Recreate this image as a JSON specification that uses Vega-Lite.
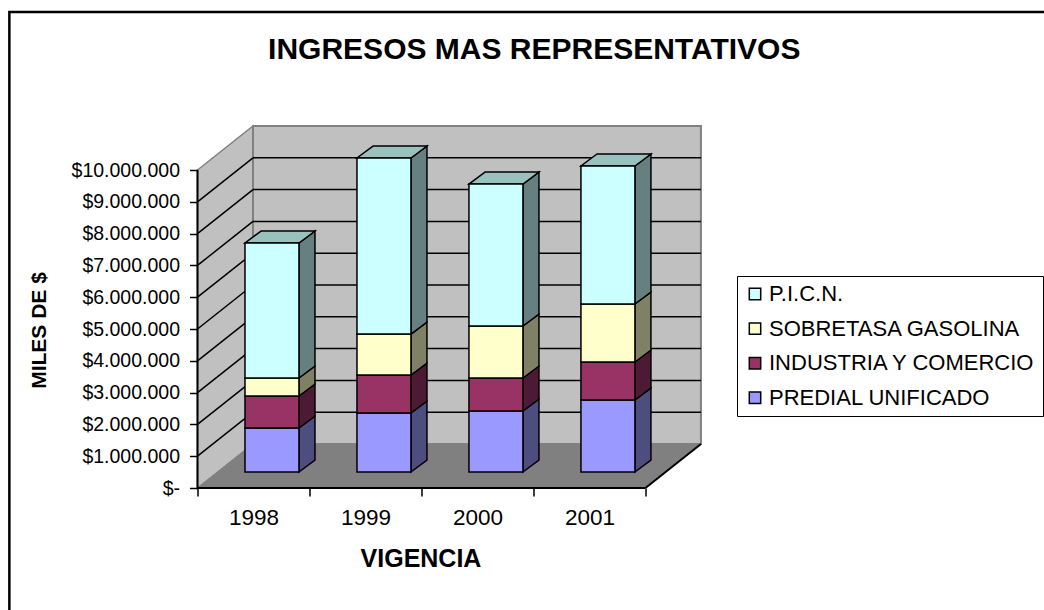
{
"$schema":"https://vega.github.io/schema/vega-lite/v6.json",
"autosize":"none","width":503.5,"height":362,
"padding":{"left":197.5,"top":126,"right":343,"bottom":122},
"background":"white",
"config":{"view":{"stroke":null},"font":"Liberation Sans"},
"title":{"text":"INGRESOS MAS REPRESENTATIVOS","frame":"group","font":"Liberation Sans","fontSize":30,"fontWeight":"bold","color":"black","anchor":"middle","dx":85,"offset":0,"dy":54.5},
"data":{"values":[
{"year":1998,"series":"PREDIAL UNIFICADO","value":1384000},
{"year":1998,"series":"INDUSTRIA Y COMERCIO","value":1006000},
{"year":1998,"series":"SOBRETASA GASOLINA","value":566000},
{"year":1998,"series":"P.I.C.N.","value":4245000},
{"year":1999,"series":"PREDIAL UNIFICADO","value":1855000},
{"year":1999,"series":"INDUSTRIA Y COMERCIO","value":1195000},
{"year":1999,"series":"SOBRETASA GASOLINA","value":1289000},
{"year":1999,"series":"P.I.C.N.","value":5535000},
{"year":2000,"series":"PREDIAL UNIFICADO","value":1918000},
{"year":2000,"series":"INDUSTRIA Y COMERCIO","value":1038000},
{"year":2000,"series":"SOBRETASA GASOLINA","value":1635000},
{"year":2000,"series":"P.I.C.N.","value":4465000},
{"year":2001,"series":"PREDIAL UNIFICADO","value":2264000},
{"year":2001,"series":"INDUSTRIA Y COMERCIO","value":1195000},
{"year":2001,"series":"SOBRETASA GASOLINA","value":1824000},
{"year":2001,"series":"P.I.C.N.","value":4340000}
]},
"transform":[
{"stack":"value","groupby":["year"],"as":["v0","v1"]},
{"calculate":"datum.year-1998+0.424","as":"xL"},
{"calculate":"datum.xL+0.482","as":"xR"},
{"calculate":"datum.v0+503000","as":"yB"},
{"calculate":"datum.v1+503000","as":"yT"}
],
"layer":[
{"data":{"values":[{"kind":"frame"}]},"mark":{"type":"rect","fill":"transparent","stroke":"black","strokeWidth":2.5},
 "encoding":{
 "x":{"datum":-1.68,"type":"quantitative","scale":{"domain":[0,4.496],"nice":false,"zero":false},
   "axis":{"values":[0,1,2,3,4],"labelExpr":"datum.value<4?''+(1998+datum.value):''","labelOffset":56,"labelFontSize":22.5,"labelColor":"black","labelFont":"Liberation Sans","labelPadding":10,"labelBound":false,"labelFlush":false,"labelOverlap":false,"domain":false,"grid":false,"tickColor":"black","tickWidth":1.5,"tickSize":8,"title":"VIGENCIA","titleFont":"Liberation Sans","titleFontSize":25,"titleFontWeight":"bold","titleColor":"black","titleX":223,"titleY":58,"zindex":1}},
 "x2":{"datum":9},
 "y":{"datum":14970000,"type":"quantitative","scale":{"domain":[0,11384000],"nice":false,"zero":false},
   "axis":{"values":[0,1000000,2000000,3000000,4000000,5000000,6000000,7000000,8000000,9000000,10000000],"tickCount":12,"labelExpr":"datum.value==0?'$-':'$'+replace(format(datum.value,',d'),/,/g,'.')","labelFontSize":19.5,"labelColor":"black","labelFont":"Liberation Sans","labelPadding":10,"labelOverlap":false,"domain":false,"grid":false,"tickColor":"black","tickWidth":1.5,"tickSize":8,"title":"MILES DE $","titleFont":"Liberation Sans","titleFontSize":21,"titleFontWeight":"bold","titleColor":"black","titleX":-148,"titleY":204,"titleAngle":-90,"zindex":1}},
 "y2":{"datum":-5000000}
 }},
{"data":{"values":[{"d":0},{"d":1}]},"transform":[{"calculate":"datum.d*0.4955","as":"x"},{"calculate":"datum.d*1383600","as":"y"},{"calculate":"10000000+datum.d*1383600","as":"y2"}],
 "mark":{"type":"area","fill":"#C0C0C0","stroke":"#808080","strokeWidth":1.5},
 "encoding":{"x":{"field":"x","type":"quantitative","scale":{"domain":[0,4.496],"nice":false,"zero":false}},
 "y":{"field":"y","type":"quantitative","stack":null,"scale":{"domain":[0,11384000],"nice":false,"zero":false}},"y2":{"field":"y2"}}},
{"data":{"values":[{"kind":"backwall"}]},"mark":{"type":"rect","fill":"#C0C0C0","stroke":"#808080","strokeWidth":2},
 "encoding":{"x":{"datum":0.4955,"type":"quantitative","scale":{"domain":[0,4.496],"nice":false,"zero":false}},"x2":{"datum":4.4955},
 "y":{"datum":1383600,"type":"quantitative","scale":{"domain":[0,11384000],"nice":false,"zero":false}},"y2":{"datum":11383600}}},
{"data":{"values":[{"d":0},{"d":1}]},"transform":[{"calculate":"datum.d*0.4955","as":"x"},{"calculate":"datum.x+4","as":"x2"},{"calculate":"datum.d*1383600","as":"y"}],
 "mark":{"type":"area","orient":"horizontal","fill":"#808080","stroke":"#808080","strokeWidth":1},
 "encoding":{"x":{"field":"x","type":"quantitative","stack":null,"scale":{"domain":[0,4.496],"nice":false,"zero":false}},"x2":{"field":"x2"},
 "y":{"field":"y","type":"quantitative","scale":{"domain":[0,11384000],"nice":false,"zero":false}}}},
{"data":{"values":[{"value":1000000},{"value":2000000},{"value":3000000},{"value":4000000},{"value":5000000},{"value":6000000},{"value":7000000},{"value":8000000},{"value":9000000}]},
 "transform":[{"calculate":"datum.value+1383600","as":"back"}],
 "layer":[
 {"mark":{"type":"rule","color":"black","strokeWidth":1.5},
 "encoding":{"x":{"datum":0,"type":"quantitative","scale":{"domain":[0,4.496],"nice":false,"zero":false}},"x2":{"datum":0.4955},
 "y":{"field":"value","type":"quantitative","scale":{"domain":[0,11384000],"nice":false,"zero":false}},"y2":{"field":"back"}}},
 {"mark":{"type":"rule","color":"black","strokeWidth":1.5},
 "encoding":{"x":{"datum":0.4955,"type":"quantitative","scale":{"domain":[0,4.496],"nice":false,"zero":false}},"x2":{"datum":4.4955},
 "y":{"field":"back","type":"quantitative","scale":{"domain":[0,11384000],"nice":false,"zero":false}}}}
 ]},
{"data":{"values":[{"edge":"front"}]},"layer":[
 {"mark":{"type":"rule","color":"black","strokeWidth":2},"encoding":{"x":{"datum":0,"type":"quantitative","scale":{"domain":[0,4.496],"nice":false,"zero":false}},"x2":{"datum":4},"y":{"datum":0,"type":"quantitative","scale":{"domain":[0,11384000],"nice":false,"zero":false}}}},
 {"mark":{"type":"rule","color":"black","strokeWidth":2},"encoding":{"x":{"datum":0,"type":"quantitative","scale":{"domain":[0,4.496],"nice":false,"zero":false}},"y":{"datum":0,"type":"quantitative","scale":{"domain":[0,11384000],"nice":false,"zero":false}},"y2":{"datum":10000000}}},
 {"mark":{"type":"rule","color":"black","strokeWidth":2},"encoding":{"x":{"datum":4,"type":"quantitative","scale":{"domain":[0,4.496],"nice":false,"zero":false}},"x2":{"datum":4.4955},"y":{"datum":0,"type":"quantitative","scale":{"domain":[0,11384000],"nice":false,"zero":false}},"y2":{"datum":1383600}}}
]},
{"transform":[{"calculate":"[0,1]","as":"d"},{"flatten":["d"]},{"calculate":"datum.xR+datum.d*0.143","as":"sx"},{"calculate":"datum.yB+datum.d*377000","as":"sy"},{"calculate":"datum.yT+datum.d*377000","as":"sy2"}],
 "mark":{"type":"area","stroke":"black","strokeWidth":1.5},
 "encoding":{"x":{"field":"sx","type":"quantitative","scale":{"domain":[0,4.496],"nice":false,"zero":false}},
 "y":{"field":"sy","type":"quantitative","stack":null,"scale":{"domain":[0,11384000],"nice":false,"zero":false}},"y2":{"field":"sy2"},
 "detail":{"field":"year"},
 "fill":{"field":"series","type":"nominal","legend":null,"scale":{"domain":["PREDIAL UNIFICADO","INDUSTRIA Y COMERCIO","SOBRETASA GASOLINA","P.I.C.N."],"range":["#4D4D80","#4D1A33","#808066","#668080"]}}}},
{"transform":[{"filter":"datum.series=='P.I.C.N.'"},{"calculate":"[0,1]","as":"d"},{"flatten":["d"]},{"calculate":"datum.xL+datum.d*0.143","as":"tx"},{"calculate":"datum.xR+datum.d*0.143","as":"tx2"},{"calculate":"datum.yT+datum.d*377000","as":"ty"}],
 "mark":{"type":"area","orient":"horizontal","fill":"#99C2BF","stroke":"black","strokeWidth":1.5},
 "encoding":{"x":{"field":"tx","type":"quantitative","stack":null,"scale":{"domain":[0,4.496],"nice":false,"zero":false}},"x2":{"field":"tx2"},
 "y":{"field":"ty","type":"quantitative","scale":{"domain":[0,11384000],"nice":false,"zero":false}},"detail":{"field":"year"}}},
{"mark":{"type":"rect","stroke":"black","strokeWidth":1.5},
 "encoding":{"x":{"field":"xL","type":"quantitative","scale":{"domain":[0,4.496],"nice":false,"zero":false}},"x2":{"field":"xR"},
 "y":{"field":"yB","type":"quantitative","scale":{"domain":[0,11384000],"nice":false,"zero":false}},"y2":{"field":"yT"},
 "color":{"field":"series","type":"nominal","scale":{"domain":["P.I.C.N.","SOBRETASA GASOLINA","INDUSTRIA Y COMERCIO","PREDIAL UNIFICADO"],"range":["#CCFFFF","#FFFFCC","#993366","#9999FF"]},
 "legend":{"title":null,"orient":"none","legendX":539.5,"legendY":150,"strokeColor":"black","padding":7,"symbolType":"square","symbolSize":130,"symbolStrokeColor":"black","symbolStrokeWidth":1.5,"labelFont":"Liberation Sans","labelFontSize":22,"labelColor":"black","rowPadding":12.6,"labelOffset":3,"labelLimit":320}}}}
]
}
